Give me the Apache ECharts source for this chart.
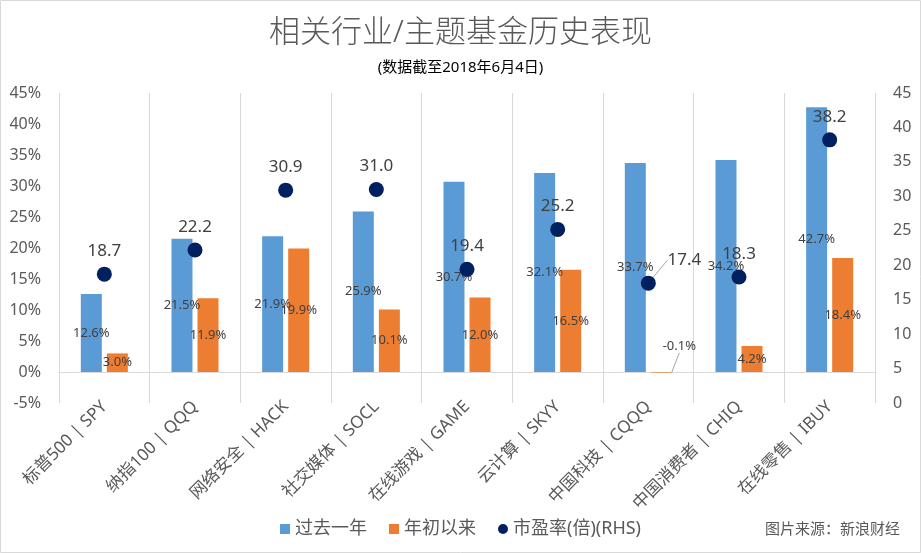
<!DOCTYPE html>
<html>
<head>
<meta charset="utf-8">
<script src="https://cdn.jsdelivr.net/npm/echarts@6/dist/echarts.min.js"></script>
<style>html,body{margin:0;padding:0;background:#fff;}#c{width:921px;height:553px;}</style>
</head>
<body>
<div id="c"></div>
<script>
var categories = ['标普500 | SPY','纳指100 | QQQ','网络安全 | HACK','社交媒体 | SOCL','在线游戏 | GAME','云计算 | SKYY','中国科技 | CQQQ','中国消费者 | CHIQ','在线零售 | IBUY'];
var pastYear = [12.6, 21.5, 21.9, 25.9, 30.7, 32.1, 33.7, 34.2, 42.7];
var ytd = [3.0, 11.9, 19.9, 10.1, 12.0, 16.5, -0.1, 4.2, 18.4];
var pe = [18.7, 22.2, 30.9, 31.0, 19.4, 25.2, 17.4, 18.3, 38.2];
var seriesNames = ['过去一年', '年初以来', '市盈率(倍)(RHS)'];

var FONT = '"Noto Sans", "Noto Sans CJK SC", sans-serif';
var chart = echarts.init(document.getElementById('c'));

var ytdData = ytd.map(function (v, i) {
  if (i === 6) return { value: v, labelLine: { show: true } };
  return v;
});
var peData = pe.map(function (v, i) {
  if (i === 6) return { value: v, labelLine: { show: true } };
  return v;
});

chart.setOption({
  backgroundColor: '#fff',
  textStyle: { fontFamily: FONT },
  title: [
    { text: '相关行业/主题基金历史表现', left: 'center', top: 13,
      textStyle: { fontSize: 31, fontWeight: 300, color: '#595959', fontFamily: FONT } },
    { text: '(数据截至2018年6月4日)', left: 'center', top: 55,
      textStyle: { fontSize: 15, fontWeight: 'normal', color: '#000', fontFamily: FONT } },
    { text: '图片来源：新浪财经', right: 16, top: 517,
      textStyle: { fontSize: 15, fontWeight: 'normal', color: '#595959', fontFamily: FONT } }
  ],
  legend: {
    bottom: 10, left: 'center',
    itemWidth: 10, itemHeight: 10, itemGap: 22,
    textStyle: { fontSize: 18, color: '#595959' },
    data: [
      { name: seriesNames[0], icon: 'rect' },
      { name: seriesNames[1], icon: 'rect' },
      { name: seriesNames[2], icon: 'circle' }
    ]
  },
  grid: { left: 59, right: 46, top: 93, bottom: 150 },
  xAxis: {
    type: 'category', data: categories,
    axisLine: { onZero: true, onZeroAxisIndex: 0, lineStyle: { color: '#d9d9d9' } },
    axisTick: { show: false },
    splitLine: { show: true, interval: 0, lineStyle: { color: '#d9d9d9' } },
    axisLabel: { interval: 0, rotate: 45, margin: 1, fontSize: 17, color: '#595959' }
  },
  yAxis: [
    { type: 'value', min: -5, max: 45, interval: 5,
      axisLabel: { formatter: '{value}%', fontSize: 16, color: '#595959', margin: 18 },
      axisLine: { show: false }, axisTick: { show: false }, splitLine: { show: false } },
    { type: 'value', min: 0, max: 45, interval: 5,
      axisLabel: { fontSize: 16, color: '#595959', margin: 18 },
      axisLine: { show: false }, axisTick: { show: false }, splitLine: { show: false } }
  ],
  series: [
    { name: seriesNames[0], type: 'bar', data: pastYear, barWidth: 21, barGap: '24%',
      itemStyle: { color: '#5B9BD5' },
      label: { show: true, position: 'inside', formatter: function (p) { return p.value.toFixed(1) + '%'; },
        fontSize: 13, color: '#404040', textBorderWidth: 0 } },
    { name: seriesNames[1], type: 'bar', data: ytdData, barWidth: 21,
      itemStyle: { color: '#ED7D31' },
      label: { show: true, position: 'inside', formatter: function (p) { return Number(p.value).toFixed(1) + '%'; },
        fontSize: 13, color: '#404040', textBorderWidth: 0 },
      labelLine: { lineStyle: { color: '#a6a6a6', width: 1 } },
      labelLayout: function (p) { if (p.dataIndex === 6) return { dx: 18, dy: -26 }; return {}; } },
    { name: seriesNames[2], type: 'scatter', yAxisIndex: 1, data: peData, symbolSize: 15,
      itemStyle: { color: '#002060', opacity: 1 },
      label: { show: true, position: 'top', distance: 7, formatter: function (p) { return Number(p.value).toFixed(1); },
        fontSize: 17, color: '#404040' },
      labelLine: { lineStyle: { color: '#a6a6a6', width: 1 } },
      labelLayout: function (p) { if (p.dataIndex === 6) return { dx: 36, dy: 0 }; return {}; } }
  ],
  graphic: [
    { type: 'rect', shape: { x: 0.5, y: 0.5, width: 920, height: 552 }, silent: true,
      style: { fill: 'none', stroke: '#d9d9d9', lineWidth: 1 } }
  ]
});
</script>
</body>
</html>
